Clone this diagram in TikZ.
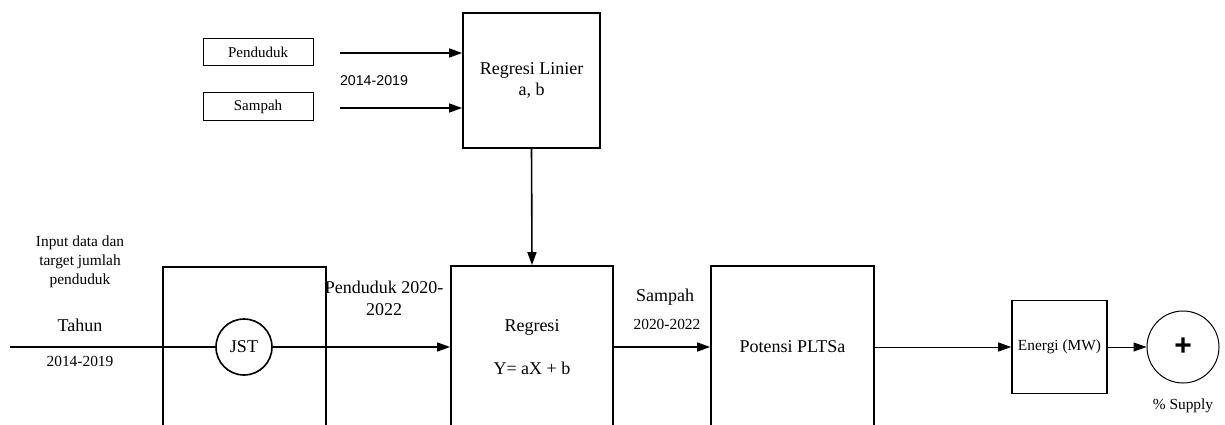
\documentclass[tikz,border=0pt]{standalone}
\usepackage{fontspec}
\setmainfont{Liberation Serif}
\newfontfamily\arialfont{Liberation Sans}
\usetikzlibrary{arrows.meta}
\begin{document}
\begin{tikzpicture}[x=1pt,y=1pt,
  big/.style={draw,line width=1.8pt,inner sep=0pt,align=center,font=\fontsize{18}{21.6}\selectfont},
  small/.style={draw,line width=1pt,inner sep=0pt,font=\fontsize{15}{18}\selectfont},
  lbl/.style={inner sep=0pt,align=center,font=\fontsize{18}{22}\selectfont},
  slbl/.style={inner sep=0pt,align=center,font=\fontsize{15.4}{19}\selectfont},
  arr/.style={line width=1.6pt,-{Triangle[length=13pt,width=9pt]}},
  tarr/.style={line width=1pt,-{Triangle[length=13pt,width=9pt]}},
  ln/.style={line width=1.6pt}]
\clip (0,0) rectangle (1225,-425);
\fill[white] (0,0) rectangle (1225,-425);
% top part
\node[small,minimum width=110pt,minimum height=27pt] (pend) at (258,-52.5) {Penduduk};
\node[small,minimum width=110pt,minimum height=28pt] (samp) at (258,-107) {Sampah};
\node[big,minimum width=137pt,minimum height=135pt] (rl) at (531.5,-80.5) {Regresi Linier\\a, b};
\coordinate (p0) at (340,-53);
\coordinate (s0) at (340,-108);
\draw[arr] (p0) -- (p0 -| rl.west);
\draw[arr] (s0) -- (s0 -| rl.west);
\node[inner sep=0pt,font=\arialfont\fontsize{14.2}{17}\selectfont] (yrs) at (374,-81) {2014-2019};
% bottom part
\node[big,minimum width=163pt,minimum height=170pt,anchor=north] (jstbox) at (244.5,-266) {};
\node[draw,circle,line width=1.6pt,minimum size=56pt,inner sep=0pt,font=\fontsize{18}{21.6}\selectfont] (jst) at (244,-347) {JST};
\node[big,minimum width=162pt,minimum height=162pt] (reg) at (532,-347) {Regresi\\[22pt]Y= aX + b};
\node[big,minimum width=163pt,minimum height=162pt] (pot) at (792.5,-347) {Potensi PLTSa};
\node[draw,line width=1.6pt,minimum width=95pt,minimum height=93pt,inner sep=0pt,font=\fontsize{15.4}{18}\selectfont] (en) at (1059.5,-347) {Energi (MW)};
\node[draw,circle,line width=1pt,minimum size=72pt,inner sep=0pt,font=\arialfont\bfseries\fontsize{30}{30}\selectfont] (sup) at (1183,-347) {+};
\coordinate (in0) at (10,-347);
\draw[ln] (in0) -- (jst.west);
\draw[arr] (jst.east) -- (reg.west);
\draw[arr] (rl.south) -- (reg.north);
\draw[arr] (reg.east) -- (pot.west);
\draw[tarr] (pot.east) -- (en.west);
\draw[tarr] (en.east) -- (sup.west);
% labels
\node[slbl] (inp) at (80,-262) {Input data dan\\target jumlah\\penduduk};
\node[lbl] (tah) at (80,-325) {Tahun};
\node[slbl] (ty) at (80,-361) {2014-2019};
\node[lbl] (pl) at (384,-298) {Penduduk 2020-\\2022};
\node[lbl] (sl) at (665,-297) {Sampah};
\node[slbl] (sy) at (667,-324) {2020-2022};
\node[slbl] (pct) at (1183,-406) {\% Supply};
\end{tikzpicture}
\end{document}
